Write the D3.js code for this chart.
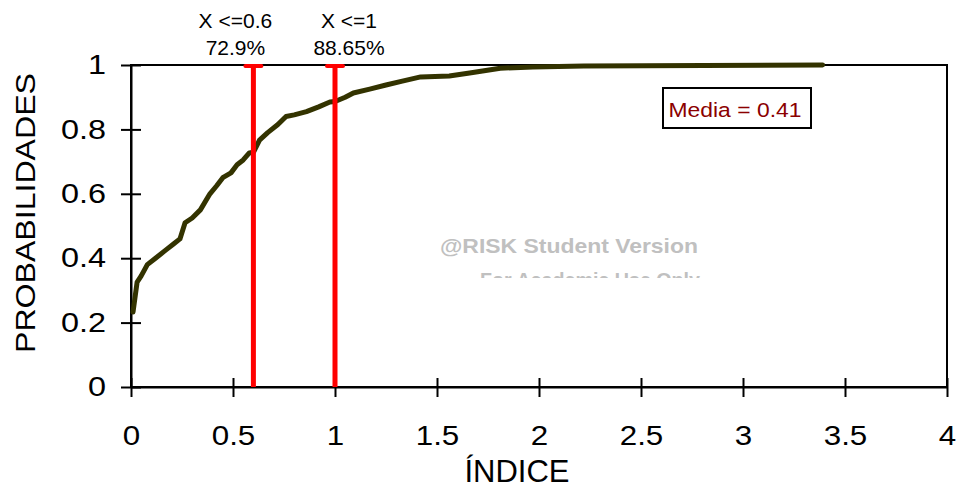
<!DOCTYPE html>
<html>
<head>
<meta charset="utf-8">
<script src="https://cdn.jsdelivr.net/npm/d3@7"></script>
<style>
  body { margin: 0; background: #fff; }
  svg { font-family: "Liberation Sans", Arial, sans-serif; }
</style>
</head>
<body>
<div id="chart"></div>
<script>
// Curva acumulada (valor del índice, probabilidad)
const indice = [0.01, 0.03, 0.05, 0.08, 0.12, 0.17, 0.21, 0.24, 0.265, 0.30, 0.34, 0.387, 0.42, 0.45, 0.49, 0.52, 0.55, 0.58, 0.60, 0.63, 0.67, 0.72, 0.76, 0.80, 0.86, 0.92, 0.975, 1.0, 1.05, 1.09, 1.17, 1.25, 1.33, 1.42, 1.56, 1.66, 1.81, 1.97, 2.22, 3.39];
const prob   = [0.233, 0.326, 0.345, 0.38, 0.40, 0.425, 0.445, 0.46, 0.51, 0.525, 0.55, 0.60, 0.625, 0.65, 0.665, 0.69, 0.705, 0.727, 0.729, 0.767, 0.79, 0.815, 0.84, 0.845, 0.855, 0.87, 0.885, 0.8865, 0.90, 0.913, 0.925, 0.938, 0.95, 0.963, 0.966, 0.975, 0.99, 0.994, 0.997, 1.0];

// Marcadores de corte
const cortes = [0.6, 1];
const cortesEtiq = ["X <=0.6", "X <=1"];
const cortesPct = ["72.9%", "88.65%"];
const cortesDesp = [-18, 14];

const xTicks = [0, 0.5, 1, 1.5, 2, 2.5, 3, 3.5, 4];
const yTicks = [0, 0.2, 0.4, 0.6, 0.8, 1];
const media = 0.41;

const margin = { top: 65, left: 131 };

const svg = d3.select("#chart").append("svg")
    .attr("width", 958)
    .attr("height", 488);

const g = svg.append("g")
    .attr("transform", "translate(" + margin.left + "," + margin.top + ")");

const x = d3.scaleLinear().domain([0, 4]).range([0, 816]);
const y = d3.scaleLinear().domain([0, 1]).range([322, 0]);

// Marco del área
g.append("rect")
    .attr("x", 0).attr("y", 0)
    .attr("width", x(4)).attr("height", y(0))
    .attr("fill", "none")
    .attr("stroke", "#000")
    .attr("stroke-width", 2);

// Ejes con marcas que cruzan la línea
const fuente = "Liberation Sans, Arial, sans-serif";
const xAxis = g.append("g")
    .attr("transform", "translate(0," + y(0) + ")")
    .call(d3.axisBottom(x).tickValues(xTicks).tickFormat(d3.format("")).tickSizeInner(10).tickSizeOuter(0));
xAxis.selectAll(".tick line").attr("y1", -9).attr("stroke-width", 2);
xAxis.select(".domain").attr("stroke-width", 2);
xAxis.selectAll("text").attr("font-size", 28).attr("dy", 0).attr("y", 0)
    .attr("transform", "translate(0,58) scale(1.12,1)")
    .attr("fill", "#000").attr("font-family", fuente);

const yAxis = g.append("g")
    .call(d3.axisLeft(y).tickValues(yTicks).tickFormat(d3.format("")).tickSizeInner(10).tickSizeOuter(0));
yAxis.selectAll(".tick line").attr("x1", 10).attr("stroke-width", 2);
yAxis.select(".domain").attr("stroke-width", 2);
yAxis.selectAll("text").attr("font-size", 27).attr("x", 0)
    .attr("transform", "translate(-25,0) scale(1.2,1)")
    .attr("fill", "#000").attr("font-family", fuente);

// Marca de agua
const clip = svg.append("clipPath").attr("id", "wm");
clip.append("rect").attr("x", 0).attr("y", 0).attr("width", 958).attr("height", 278);
const wm = svg.append("g").attr("clip-path", "url(#wm)")
    .attr("fill", "#c0c0c0").attr("font-weight", "bold").attr("font-size", 21)
    .attr("text-anchor", "middle");
wm.append("text").attr("x", 569).attr("y", 253)
    .attr("textLength", 258).attr("lengthAdjust", "spacingAndGlyphs")
    .text("@RISK Student Version");
wm.append("text").attr("x", 590).attr("y", 287)
    .attr("textLength", 220).attr("lengthAdjust", "spacingAndGlyphs")
    .text("For Academic Use Only");

// Curva
const datos = indice.map((d, i) => [d, prob[i]]);
g.append("path")
    .datum(datos)
    .attr("fill", "none")
    .attr("stroke", "#333300")
    .attr("stroke-width", 5)
    .attr("stroke-linejoin", "round")
    .attr("stroke-linecap", "round")
    .attr("d", d3.line().x(d => x(d[0])).y(d => y(d[1])));

// Líneas rojas de corte
cortes.forEach((c, i) => {
    g.append("line")
        .attr("x1", x(c)).attr("x2", x(c))
        .attr("y1", y(1)).attr("y2", y(0))
        .attr("stroke", "#ff0000").attr("stroke-width", 5);
    g.append("line")
        .attr("x1", x(c) - 8).attr("x2", x(c) + 8)
        .attr("y1", y(1) + 1).attr("y2", y(1) + 1)
        .attr("stroke", "#ff0000").attr("stroke-width", 4)
        .attr("stroke-linecap", "round");
    const t = g.append("text")
        .attr("text-anchor", "middle")
        .attr("font-size", 21)
        .attr("fill", "#000");
    t.append("tspan").attr("x", x(c) + cortesDesp[i]).attr("y", 28 - margin.top).text(cortesEtiq[i]);
    t.append("tspan").attr("x", x(c) + cortesDesp[i]).attr("y", 55 - margin.top).text(cortesPct[i]);
});

// Caja de media
svg.append("rect")
    .attr("x", 663).attr("y", 88)
    .attr("width", 148).attr("height", 40)
    .attr("fill", "#fff")
    .attr("stroke", "#000").attr("stroke-width", 2);
svg.append("text")
    .attr("x", 735).attr("y", 117)
    .attr("text-anchor", "middle")
    .attr("font-size", 20.5)
    .attr("textLength", 133).attr("lengthAdjust", "spacingAndGlyphs")
    .attr("fill", "#8b0000")
    .text("Media = " + media);

// Títulos de ejes
svg.append("text")
    .attr("x", 517).attr("y", 482)
    .attr("text-anchor", "middle")
    .attr("font-size", 31)
    .text("ÍNDICE");
svg.append("text")
    .attr("transform", "translate(35,213) rotate(-90)")
    .attr("text-anchor", "middle")
    .attr("font-size", 28)
    .attr("textLength", 280).attr("lengthAdjust", "spacingAndGlyphs")
    .text("PROBABILIDADES");
</script>
</body>
</html>
